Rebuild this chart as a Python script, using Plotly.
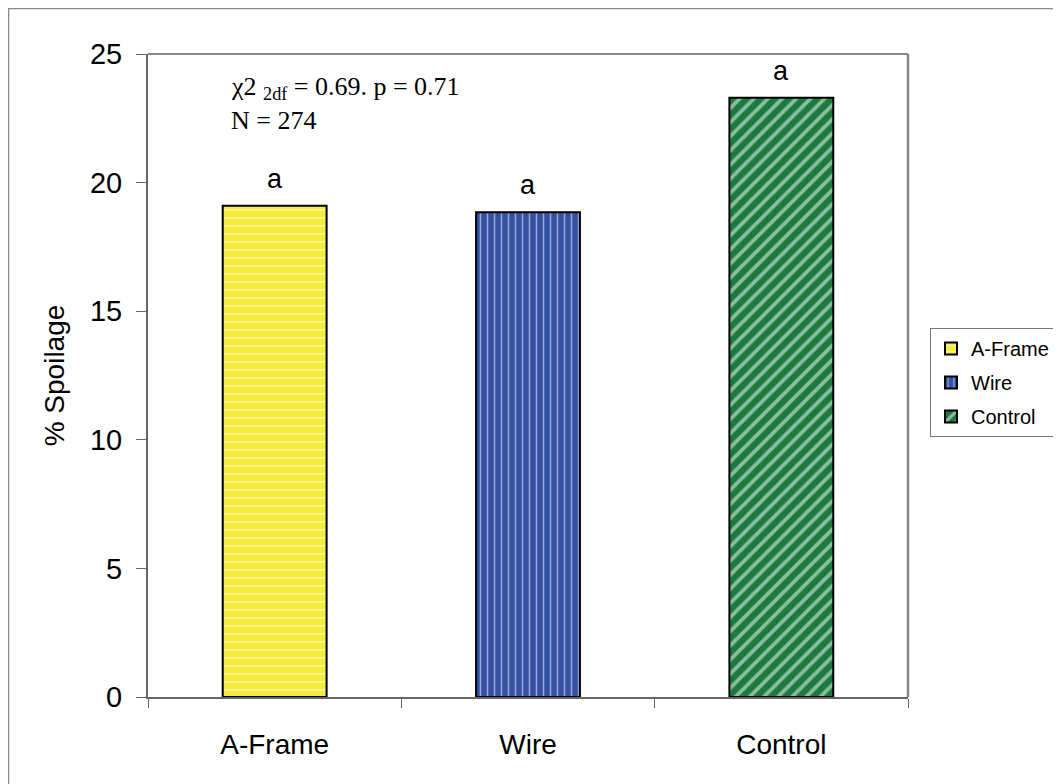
import plotly.graph_objects as go

categories = ["A-Frame", "Wire", "Control"]
spoilage = [19.1, 18.85, 23.3]
letters = ["a", "a", "a"]
colors = ["#F4EB3A", "#3350A2", "#1B7B3F"]
patterns = ["-", "|", "/"]
pattern_sizes = [8, 7, 10]
pattern_solidity = [0.22, 0.22, 0.38]
y_ticks = [0, 5, 10, 15, 20, 25]

# page is offset by the body margin (8px); plot area in div coordinates
L, T, W, H = 140, 46, 760, 643
FIG_W, FIG_H = 1053, 776

def px(x):
    return (x - L) / W

def py(y):
    return (T + H - y) / H

fig = go.Figure()
for i, cat in enumerate(categories):
    fig.add_trace(go.Bar(
        x=[cat], y=[spoilage[i]], name=cat, width=0.41,
        legendgroup=cat,
        marker=dict(color=colors[i],
                    line=dict(color="black", width=2),
                    pattern=dict(shape=patterns[i], fgcolor="white", bgcolor=colors[i],
                                 size=pattern_sizes[i], solidity=pattern_solidity[i])),
    ))
    fig.add_annotation(x=cat, y=spoilage[i], text=letters[i], showarrow=False,
                       yshift=27, font=dict(family="Arial, Liberation Sans", size=27, color="black"))

serif = dict(family="Liberation Serif, Times New Roman", size=26, color="black")
fig.add_annotation(xref="paper", yref="paper", x=px(221), y=py(80), xanchor="left", yanchor="middle",
                   showarrow=False, text="χ2 <sub>2df</sub> = 0.69. p = 0.71", font=serif)
fig.add_annotation(xref="paper", yref="paper", x=px(221), y=py(112), xanchor="left", yanchor="middle",
                   showarrow=False, text="N = 274", font=serif)

# outer frame
fig.add_shape(type="rect", xref="paper", yref="paper",
              x0=px(0.5), x1=px(1070), y0=py(790), y1=py(0.5),
              line=dict(color="#888888", width=1.5), layer="below")

fig.update_layout(
    width=FIG_W, height=FIG_H,
    margin=dict(l=L, r=FIG_W - L - W, t=T, b=FIG_H - T - H, autoexpand=False),
    plot_bgcolor="white", paper_bgcolor="white",
    barmode="overlay",
    showlegend=True,
    legend=dict(x=px(922), y=py(320), xanchor="left", yanchor="top",
                bordercolor="#777777", borderwidth=1, tracegroupgap=5,
                font=dict(family="Arial, Liberation Sans", size=20, color="black"),
                itemwidth=30),
    xaxis=dict(range=[-0.5, 2.5], tickson="boundaries", ticks="outside", ticklen=9,
               tickcolor="#666666", showline=True, linecolor="#666666", linewidth=2,
               ticklabelstandoff=21,
               tickfont=dict(family="Arial, Liberation Sans", size=28, color="black"),
               showgrid=False),
    yaxis=dict(range=[0, 25], tickvals=y_ticks, ticks="outside", ticklen=10,
               tickcolor="#666666", showline=True, linecolor="#666666", linewidth=2,
               ticklabelstandoff=8,
               tickfont=dict(family="Arial, Liberation Sans", size=29, color="black"),
               title=dict(text="% Spoilage", font=dict(family="Arial, Liberation Sans", size=28, color="black"),
                          standoff=17),
               showgrid=False, zeroline=False),
)
# plot area top and right border
fig.add_shape(type="line", xref="paper", yref="paper", x0=0, x1=1, y0=1, y1=1,
              line=dict(color="#888888", width=2))
fig.add_shape(type="line", xref="paper", yref="paper", x0=1, x1=1, y0=0, y1=1,
              line=dict(color="#888888", width=2.5))

fig.write_html("out.html")
